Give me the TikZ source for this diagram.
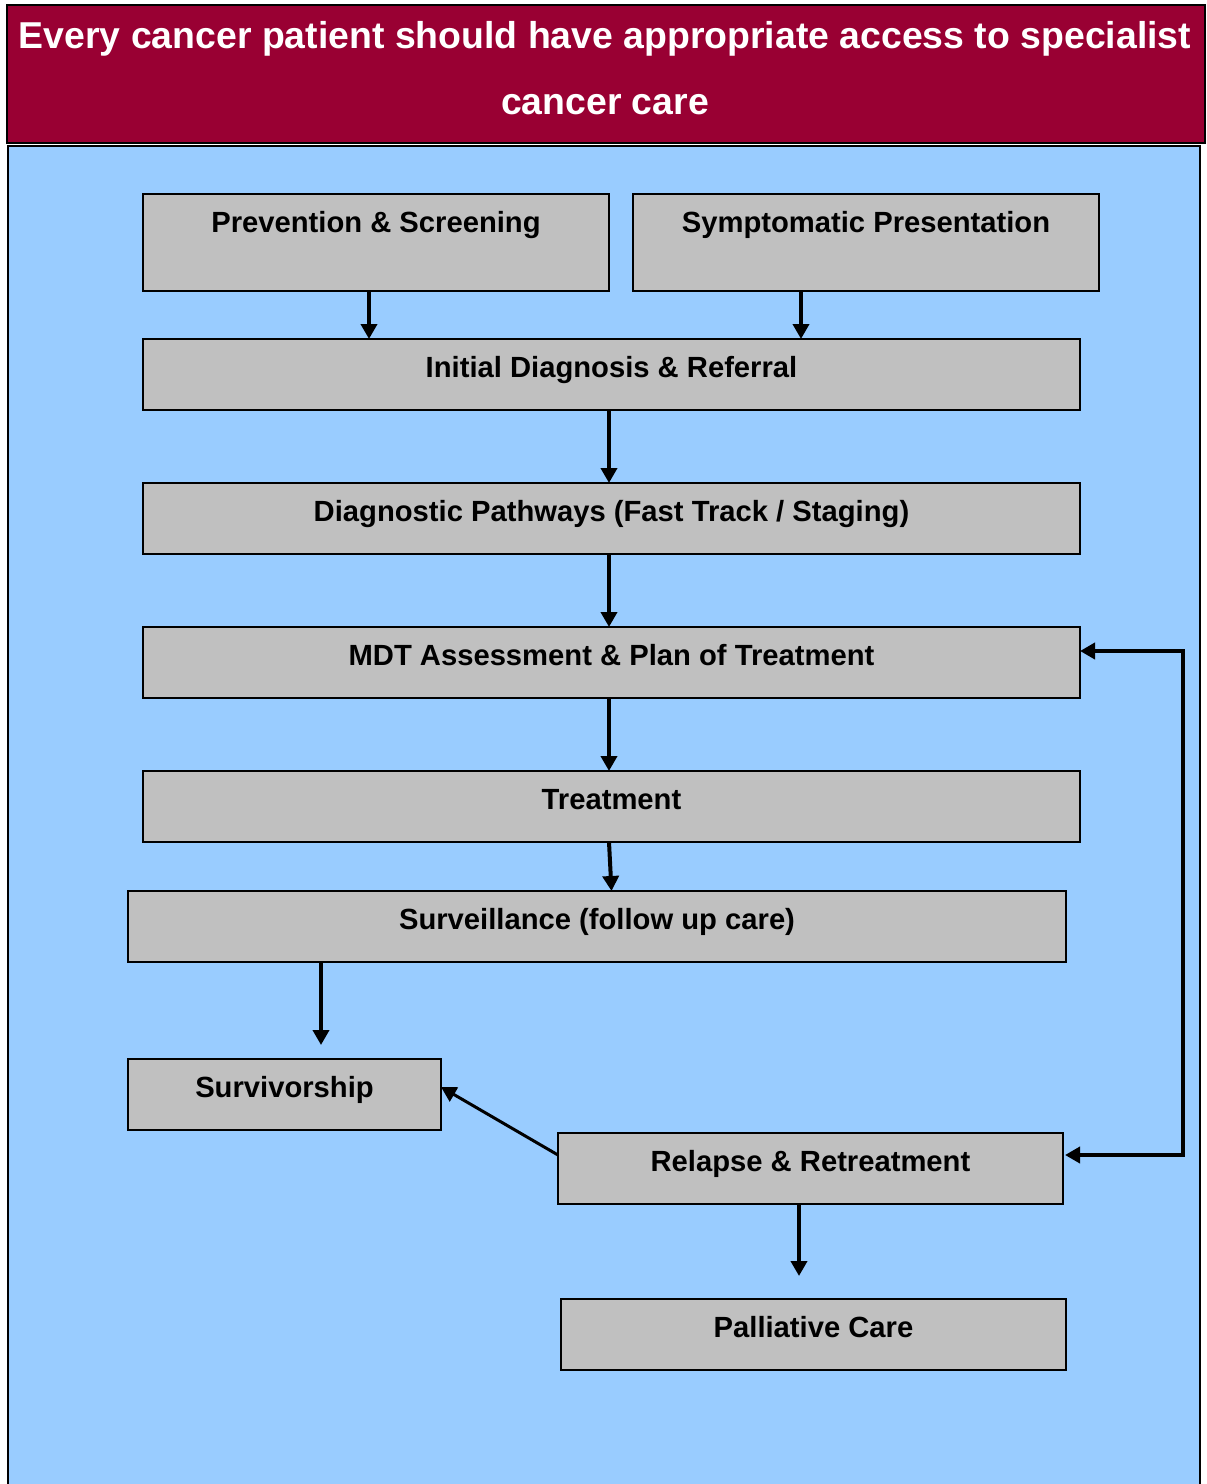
\documentclass[tikz,border=0pt]{standalone}
\usepackage{fontspec}
\setmainfont{Liberation Sans}
\usetikzlibrary{positioning, arrows.meta}

\definecolor{headred}{HTML}{990033}
\definecolor{panelblue}{HTML}{99CCFF}
\definecolor{boxgray}{HTML}{C0C0C0}

\begin{document}
\begin{tikzpicture}[
    x=0.5pt, y=-0.5pt,
    stage/.style={draw, line width=1pt, fill=boxgray, inner sep=0pt, outer sep=0pt,
        text height=19pt, font=\bfseries\fontsize{14.6}{17}\selectfont},
    short/.style={text depth=16.5pt},
    tall/.style={text depth=29.5pt},
    arrow/.style={-{Triangle[length=7.5pt, width=8pt]}, line width=2pt},
    twoway/.style={{Triangle[length=7.5pt, width=8pt]}-{Triangle[length=7.5pt, width=8pt]}, line width=2pt}
]
    \useasboundingbox (0,0) rectangle (1206,1484);

    % Fundo e faixa do titulo
    \draw[line width=1pt, fill=panelblue] (8,146) rectangle (1200,1500);
    \draw[line width=1pt, fill=headred] (7,5) rectangle (1205,143);

    % Titulo
    \node[text=white, align=center, inner sep=0pt,
          font=\bfseries\fontsize{18.7}{33}\selectfont] (title) at (605,68)
        {Every cancer patient should have appropriate access to specialist\\cancer care};

    % Etapas
    \node[stage, tall, anchor=north west, minimum width=233pt] (prev) at (143,194) {Prevention \& Screening};
    \node[stage, tall, minimum width=233pt, right=12pt of prev] (symp) {Symptomatic Presentation};
    \node[stage, short, minimum width=468.5pt, below=24pt of prev.south west, anchor=north west] (init) {Initial Diagnosis \& Referral};
    \node[stage, short, minimum width=468.5pt, below=36.5pt of init] (diag) {Diagnostic Pathways (Fast Track / Staging)};
    \node[stage, short, minimum width=468.5pt, below=36.5pt of diag] (mdt) {MDT Assessment \& Plan of Treatment};
    \node[stage, short, minimum width=468.5pt, below=36.5pt of mdt] (treat) {Treatment};
    \node[stage, short, minimum width=469pt, below=24.5pt of treat, xshift=-7.25pt] (surv) {Surveillance (follow up care)};
    \node[stage, short, minimum width=156.5pt, below=48.5pt of surv.south west, anchor=north west] (surviv) {Survivorship};
    \node[stage, short, anchor=north west, minimum width=252.5pt] (relapse) at (558,1133) {Relapse \& Retreatment};
    \node[stage, short, minimum width=252.5pt, below=47.5pt of relapse.south west, anchor=north west, xshift=1.5pt] (pall) {Palliative Care};

    % Ligacoes
    \draw[arrow] ([xshift=-3.5pt]prev.south) -- ([xshift=-3.5pt]prev.south |- init.north);
    \draw[arrow] ([xshift=-32.5pt]symp.south) -- ([xshift=-32.5pt]symp.south |- init.north);
    \draw[arrow] ([xshift=-1.25pt]init.south) -- ([xshift=-1.25pt]diag.north);
    \draw[arrow] ([xshift=-1.25pt]diag.south) -- ([xshift=-1.25pt]mdt.north);
    \draw[arrow] ([xshift=-1.25pt]mdt.south) -- ([xshift=-1.25pt]treat.north);
    \draw[arrow] ([xshift=-1.25pt]treat.south) -- (treat.south |- surv.north);
    \draw[arrow, shorten >=7pt] ([xshift=96.5pt]surv.south west) -- ([xshift=96.5pt]surv.south west |- surviv.north);
    \draw[arrow, line width=1.5pt] ([yshift=6.75pt]relapse.west) -- ([yshift=3.75pt]surviv.east);
    \draw[arrow, shorten >=11.5pt] ([xshift=-5.75pt]relapse.south) -- ([xshift=-5.75pt]relapse.south |- pall.north);

    % Retorno
    \coordinate (loopx) at (1183,0);
    \draw[twoway] ([yshift=5.75pt]mdt.east) -- ([yshift=5.75pt]mdt.east -| loopx)
        -- ([yshift=6.75pt]relapse.east -| loopx) -- ([yshift=6.75pt, xshift=1pt]relapse.east);

\end{tikzpicture}
\end{document}
